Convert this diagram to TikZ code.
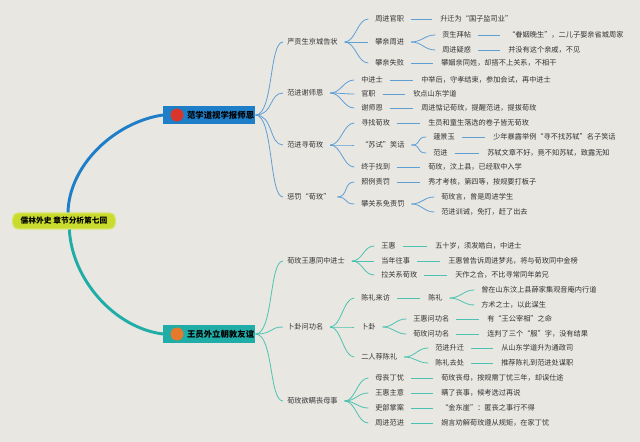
\documentclass[tikz,border=0pt]{standalone}
\usepackage{fontspec}
\setmainfont{Noto Sans CJK SC}
\definecolor{bgc}{HTML}{E9E7E2}
\definecolor{lb}{HTML}{5E9FD6}
\definecolor{lt}{HTML}{4CC3B2}
\definecolor{boxb}{HTML}{1E7FC8}
\definecolor{boxt}{HTML}{20ADA8}
\definecolor{rootc}{HTML}{C9DC2E}
\definecolor{txt}{HTML}{333333}
\definecolor{redc}{HTML}{D8362B}
\definecolor{orc}{HTML}{E57A2C}
\tikzset{
  t/.style={anchor=west,inner sep=0pt,text height=5pt,text depth=1.3pt,text=txt,font=\fontsize{5.4}{6}\selectfont},
  bl/.style={draw=lb,line width=0.6pt},
  tl/.style={draw=lt,line width=0.6pt},
  mainbox/.style={anchor=west,minimum width=69pt,minimum height=13.5pt,inner sep=0pt,text=black,font=\bfseries\fontsize{6.3}{7}\selectfont},
}
\newcommand\fanl[3]{\draw[#1] ([xshift=5pt]#2.east) .. controls +(11,0) and +(-11,0) .. ([xshift=-5pt]#3.west);}
\newcommand\stubl[3]{\draw[#1] ([xshift=5pt]#2.east) -- ([xshift=-6pt]#3.west);}
\newcommand\mainl[3]{\draw[#1] (#2.east) .. controls +(18,0) and +(-14,0) .. ([xshift=-3pt]#3.west);}
\begin{document}
\begin{tikzpicture}[x=0.75pt,y=-0.75pt]
\fill[bgc] (0,0) rectangle (640,442);
\useasboundingbox (0,0) rectangle (640,442);
% root
\node[fill=rootc,draw=rootc!70!white,line width=0.8pt,rounded corners=4pt,minimum width=77pt,minimum height=12pt,inner sep=0pt,font=\bfseries\fontsize{5.8}{7}\selectfont] (root) at (64,221) {儒林外史 章节分析第七回};
% main boxes
\node[mainbox,fill=boxb] (m1) at (163,115) {\hspace{17pt}范学道视学报师恩};
\node[mainbox,fill=boxt] (m2) at (163,334) {\hspace{17pt}王员外立朝敦友谊};
\fill[redc] (177,115) circle (6.5);
\fill[orc] (177,334) circle (6.5);
\draw[boxb,line width=2.2pt] ([xshift=3pt]root.north) .. controls (69,165) and (115,122) .. (m1.west);
\draw[boxt,line width=2.2pt] ([xshift=4pt]root.south) .. controls (72,280) and (115,328) .. (m2.west);

% ===== branch 1 =====
\node[t] (a) at (287,42) {严贡生京城告状};
\node[t] (b) at (287,93) {范进谢师恩};
\node[t] (c) at (287,145) {范进寻荀玫};
\node[t] (d) at (287,197) {惩罚“荀玫”};
\foreach \n in {a,b,c,d} {\mainl{bl}{m1}{\n}}

\node[t] (a1) at (375,19) {周进官职};
\node[t] (a2) at (375,42) {攀亲周进};
\node[t] (a3) at (375,63) {攀亲失败};
\node[t] (a1x) at (440,19) {升迁为“国子监司业”};
\node[t] (a2a) at (442,35) {贡生拜帖};
\node[t] (a2b) at (442,50) {周进疑惑};
\node[t] (a2ax) at (508,35) {“眷姻晚生”，二儿子娶亲省城周家};
\node[t] (a2bx) at (508,50) {并没有这个亲戚，不见};
\node[t] (a3x) at (441,63) {攀姻亲同姓，却搭不上关系，不相干};
\foreach \n in {a1,a2,a3} {\fanl{bl}{a}{\n}}
\stubl{bl}{a1}{a1x}
\fanl{bl}{a2}{a2a}\fanl{bl}{a2}{a2b}
\stubl{bl}{a2a}{a2ax}\stubl{bl}{a2b}{a2bx}
\stubl{bl}{a3}{a3x}

\node[t] (b1) at (361,80) {中进士};
\node[t] (b2) at (361,94) {官职};
\node[t] (b3) at (361,108) {谢师恩};
\node[t] (b1x) at (421,80) {中举后，守孝结束，参加会试，再中进士};
\node[t] (b2x) at (413,94) {钦点山东学道};
\node[t] (b3x) at (421,108) {周进惦记荀玫，提醒范进，提拔荀玫};
\foreach \n in {b1,b2,b3} {\fanl{bl}{b}{\n}}
\stubl{bl}{b1}{b1x}\stubl{bl}{b2}{b2x}\stubl{bl}{b3}{b3x}

\node[t] (c1) at (361,123) {寻找荀玫};
\node[t] (c2) at (361,145) {“苏试”笑话};
\node[t] (c3) at (361,167) {终于找到};
\node[t] (c1x) at (428,123) {生员和童生落选的卷子皆无荀玫};
\node[t] (c2a) at (433,137) {蘧景玉};
\node[t] (c2b) at (433,153) {范进};
\node[t] (c2ax) at (493,137) {少年暴露举例“寻不找苏轼”名子笑话};
\node[t] (c2bx) at (487,153) {苏轼文章不好，竟不知苏轼，致露无知};
\node[t] (c3x) at (428,167) {荀玫，汶上县，已经取中入学};
\foreach \n in {c1,c2,c3} {\fanl{bl}{c}{\n}}
\stubl{bl}{c1}{c1x}
\fanl{bl}{c2}{c2a}\fanl{bl}{c2}{c2b}
\stubl{bl}{c2a}{c2ax}\stubl{bl}{c2b}{c2bx}
\stubl{bl}{c3}{c3x}

\node[t] (d1) at (361,182) {照例责罚};
\node[t] (d2) at (361,204) {攀关系免责罚};
\node[t] (d1x) at (428,182) {秀才考核，第四等，按规要打板子};
\node[t] (d2a) at (441,197) {荀玫言，曾是周进学生};
\node[t] (d2b) at (441,212) {范进训诫，免打，赶了出去};
\fanl{bl}{d}{d1}\fanl{bl}{d}{d2}
\stubl{bl}{d1}{d1x}
\fanl{bl}{d2}{d2a}\fanl{bl}{d2}{d2b}

% ===== branch 2 =====
\node[t] (e) at (287,261) {荀玫王惠同中进士};
\node[t] (f) at (287,327) {卜卦问功名};
\node[t] (g) at (287,401) {荀玫欲瞒丧母事};
\foreach \n in {e,f,g} {\mainl{tl}{m2}{\n}}

\node[t] (e1) at (381,246) {王惠};
\node[t] (e2) at (381,261) {当年往事};
\node[t] (e3) at (381,275) {拉关系荀玫};
\node[t] (e1x) at (435,246) {五十岁，须发皓白，中进士};
\node[t] (e2x) at (448,261) {王惠曾告诉周进梦兆，将与荀玫同中金榜};
\node[t] (e3x) at (455,275) {天作之合，不比寻常同年弟兄};
\foreach \n in {e1,e2,e3} {\fanl{tl}{e}{\n}}
\stubl{tl}{e1}{e1x}\stubl{tl}{e2}{e2x}\stubl{tl}{e3}{e3x}

\node[t] (f1) at (361,298) {陈礼来访};
\node[t] (f2) at (361,327) {卜卦};
\node[t] (f3) at (361,357) {二人荐陈礼};
\node[t] (f1a) at (428,298) {陈礼};
\node[t] (f1b) at (481,290) {曾在山东汶上县薛家集观音庵内行道};
\node[t] (f1c) at (481,305) {方术之士，以此谋生};
\node[t] (f2a) at (413,319) {王惠问功名};
\node[t] (f2b) at (413,334) {荀玫问功名};
\node[t] (f2ax) at (487,319) {有“王公宰相”之命};
\node[t] (f2bx) at (487,334) {连判了三个“服”字，没有结果};
\node[t] (f3a) at (435,348) {范进升迁};
\node[t] (f3b) at (435,363) {陈礼去处};
\node[t] (f3ax) at (501,348) {从山东学道升为通政司};
\node[t] (f3bx) at (501,363) {推荐陈礼到范进处谋职};
\foreach \n in {f1,f2,f3} {\fanl{tl}{f}{\n}}
\stubl{tl}{f1}{f1a}
\fanl{tl}{f1a}{f1b}\fanl{tl}{f1a}{f1c}
\fanl{tl}{f2}{f2a}\fanl{tl}{f2}{f2b}
\stubl{tl}{f2a}{f2ax}\stubl{tl}{f2b}{f2bx}
\fanl{tl}{f3}{f3a}\fanl{tl}{f3}{f3b}
\stubl{tl}{f3a}{f3ax}\stubl{tl}{f3b}{f3bx}

\node[t] (g1) at (375,378) {母丧丁忧};
\node[t] (g2) at (375,393) {王惠主意};
\node[t] (g3) at (375,408) {吏部掌案};
\node[t] (g4) at (375,423) {周进范进};
\node[t] (g1x) at (441,378) {荀玫丧母，按规需丁忧三年，却误仕途};
\node[t] (g2x) at (441,393) {瞒了丧事，候考选过再说};
\node[t] (g3x) at (441,408) {“金东崖”：匿丧之事行不得};
\node[t] (g4x) at (441,423) {婉言劝解荀玫遵从规矩，在家丁忧};
\foreach \n in {g1,g2,g3,g4} {\fanl{tl}{g}{\n}}
\stubl{tl}{g1}{g1x}\stubl{tl}{g2}{g2x}\stubl{tl}{g3}{g3x}\stubl{tl}{g4}{g4x}
\end{tikzpicture}
\end{document}
